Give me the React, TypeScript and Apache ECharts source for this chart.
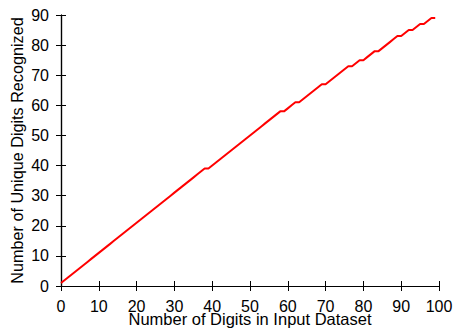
import React, { useEffect, useRef } from "react";
import * as echarts from "echarts";

const xValues: number[] = Array.from({ length: 100 }, (_, i) => i);
const uniqueRecognized: number[] = [
  1, 2, 3, 4, 5, 6, 7, 8, 9, 10,
  11, 12, 13, 14, 15, 16, 17, 18, 19, 20,
  21, 22, 23, 24, 25, 26, 27, 28, 29, 30,
  31, 32, 33, 34, 35, 36, 37, 38, 39, 39,
  40, 41, 42, 43, 44, 45, 46, 47, 48, 49,
  50, 51, 52, 53, 54, 55, 56, 57, 58, 58,
  59, 60, 61, 61, 62, 63, 64, 65, 66, 67,
  67, 68, 69, 70, 71, 72, 73, 73, 74, 75,
  75, 76, 77, 78, 78, 79, 80, 81, 82, 83,
  83, 84, 85, 85, 86, 87, 87, 88, 89, 89,
];
const xTitle = "Number of Digits in Input Dataset";
const yTitle = "Number of Unique Digits Recognized";

const FONT = "'Liberation Sans', Arial, Helvetica, sans-serif";

export default function App() {
  const ref = useRef<HTMLDivElement>(null);
  useEffect(() => {
    if (!ref.current) return;
    const chart = echarts.init(ref.current, null, { renderer: "svg" });
    const tickStyle = { show: true, inside: true, length: 5, lineStyle: { color: "#000", width: 1 } };
    const lineStyle = { show: true, lineStyle: { color: "#000", width: 1.2 } };
    chart.setOption({
      animation: false,
      backgroundColor: "#fff",
      grid: { left: 61, right: 15, top: 15, bottom: 45, containLabel: false, outerBoundsMode: "none" },
      xAxis: [
        {
          type: "value",
          min: 0,
          max: 100,
          interval: 10,
          position: "bottom",
          name: xTitle,
          nameLocation: "middle",
          nameGap: 26,
          nameMoveOverlap: false,
          nameTextStyle: { fontFamily: FONT, fontSize: 16.5, color: "#000", lineHeight: 14 },
          axisLine: lineStyle,
          axisTick: tickStyle,
          axisLabel: { fontFamily: FONT, fontSize: 16, color: "#000", margin: 13, lineHeight: 14 },
          splitLine: { show: false },
        },
        {
          type: "value",
          min: 0,
          max: 100,
          interval: 10,
          position: "top",
          axisLine: lineStyle,
          axisTick: tickStyle,
          axisLabel: { show: false },
          splitLine: { show: false },
        },
      ],
      yAxis: [
        {
          type: "value",
          min: 0,
          max: 90,
          interval: 10,
          position: "left",
          name: yTitle,
          nameLocation: "middle",
          nameGap: 36,
          nameMoveOverlap: false,
          nameTextStyle: { fontFamily: FONT, fontSize: 16.2, color: "#000" },
          axisLine: lineStyle,
          axisTick: tickStyle,
          axisLabel: { fontFamily: FONT, fontSize: 16, color: "#000", margin: 12 },
          splitLine: { show: false },
        },
        {
          type: "value",
          min: 0,
          max: 90,
          interval: 10,
          position: "right",
          axisLine: lineStyle,
          axisTick: tickStyle,
          axisLabel: { show: false },
          splitLine: { show: false },
        },
      ],
      series: [
        {
          type: "line",
          data: xValues.map((x, i) => [x, uniqueRecognized[i]]),
          showSymbol: false,
          lineStyle: { color: "#ff0000", width: 2 },
          itemStyle: { color: "#ff0000" },
        },
      ],
    });
    return () => chart.dispose();
  }, []);
  return <div ref={ref} style={{ width: 454, height: 331, position: "absolute", left: 0, top: 0 }} />;
}
